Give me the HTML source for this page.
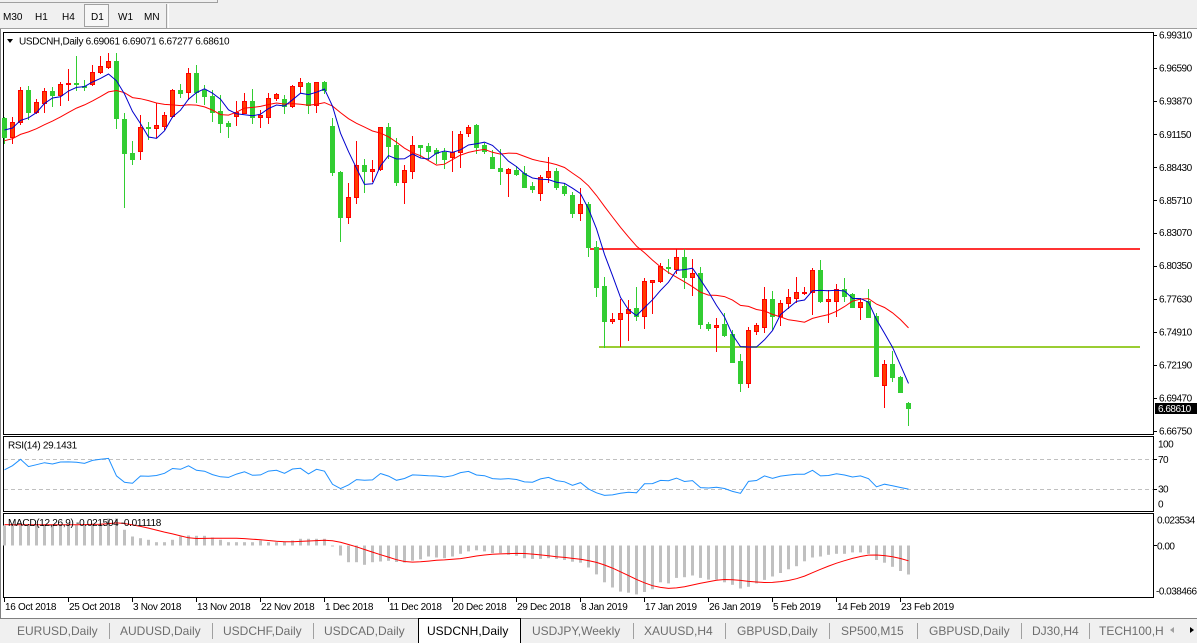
<!DOCTYPE html>
<html><head><meta charset="utf-8">
<style>
html,body{margin:0;padding:0;width:1197px;height:643px;overflow:hidden;background:#f0f0f0;}
svg{display:block;font-family:"Liberation Sans",Arial,sans-serif;}
</style></head><body>
<svg id="s" width="1197" height="643" viewBox="0 0 1197 643" xmlns="http://www.w3.org/2000/svg">
<!-- toolbar -->
<rect x="0" y="0" width="1197" height="29" fill="#f0f0f0"/>
<line x1="0" y1="2.5" x2="217" y2="2.5" stroke="#a0a0a0"/>
<line x1="217.5" y1="0" x2="217.5" y2="3" stroke="#a0a0a0"/>
<rect x="84.5" y="4.5" width="24" height="22" fill="#f7f7f7" stroke="#a0a0a0"/>
<line x1="166.5" y1="4" x2="166.5" y2="28" stroke="#a0a0a0"/>
<line x1="168.5" y1="4" x2="168.5" y2="28" stroke="#ffffff"/>
<g font-size="10" fill="#000">
<text x="3" y="20">M30</text>
<text x="35" y="20">H1</text>
<text x="62" y="20">H4</text>
<text x="91" y="20">D1</text>
<text x="118" y="20">W1</text>
<text x="144" y="20">MN</text>
</g>
<line x1="0" y1="28.5" x2="1197" y2="28.5" stroke="#a0a0a0"/>
<!-- chart window -->
<rect x="0" y="29" width="1197" height="589" fill="#ffffff"/>
<line x1="0.5" y1="29" x2="0.5" y2="618" stroke="#808080"/>
<!-- frames -->
<g fill="none" stroke="#000" shape-rendering="crispEdges">
<rect x="3.5" y="32.5" width="1150" height="402"/>
<rect x="3.5" y="436.5" width="1150" height="75"/>
<rect x="3.5" y="513.5" width="1150" height="84"/>
</g>
<!-- RSI levels -->
<g stroke="#c0c0c0" stroke-dasharray="4,3" shape-rendering="crispEdges">
<line x1="4" y1="459.5" x2="1153" y2="459.5"/>
<line x1="4" y1="489.5" x2="1153" y2="489.5"/>
</g>
<!-- level lines -->
<rect x="590" y="248" width="550" height="2" fill="#f33"/>
<rect x="599" y="346" width="541" height="2" fill="#9acd32"/>
<g id="dyn"></g>
<!-- titles -->
<polygon points="7,39 13,39 10,43" fill="#000"/>
<text x="19" y="44.5" font-size="10" letter-spacing="-0.3" fill="#000">USDCNH,Daily  6.69061 6.69071 6.67277 6.68610</text>
<text x="8" y="448.5" font-size="10" letter-spacing="-0.3" fill="#000">RSI(14) 29.1431</text>
<text x="8" y="526" font-size="10" letter-spacing="-0.3" fill="#000">MACD(12,26,9) -0.021504 -0.011118</text>
<!-- price axis -->
<g id="pax" font-size="10" letter-spacing="-0.5" fill="#000"></g>
<rect x="1155" y="403" width="42" height="11" fill="#000"/>
<text x="1158" y="412" font-size="10" letter-spacing="-0.5" fill="#fff">6.68610</text>
<!-- RSI axis -->
<g font-size="10" letter-spacing="-0.5" fill="#000">
<text x="1158" y="447.5">100</text>
<text x="1158" y="463">70</text>
<text x="1158" y="492.5">30</text>
<text x="1158" y="507.5">0</text>
<text x="1157" y="523.5">0.023534</text>
<text x="1157" y="549.5">0.00</text>
<text x="1156" y="594.5">-0.038466</text>
</g>
<g stroke="#000" shape-rendering="crispEdges">
<line x1="1153" y1="459.5" x2="1157" y2="459.5"/>
<line x1="1153" y1="489.5" x2="1157" y2="489.5"/>
<line x1="1153" y1="545.5" x2="1157" y2="545.5"/>
</g>
<!-- date axis -->
<g id="dax" font-size="10" letter-spacing="-0.3" fill="#000"></g>
<!-- tabs -->
<rect x="0" y="618" width="1197" height="25" fill="#f0f0f0"/>
<line x1="0" y1="618.5" x2="1197" y2="618.5" stroke="#808080"/>
<rect x="418.5" y="618.5" width="102" height="30" fill="#ffffff" stroke="#000"/>
<g stroke="#a0a0a0" shape-rendering="crispEdges">
<line x1="109.5" y1="623" x2="109.5" y2="639"/>
<line x1="212.5" y1="623" x2="212.5" y2="639"/>
<line x1="313.5" y1="623" x2="313.5" y2="639"/>
<line x1="633.5" y1="623" x2="633.5" y2="639"/>
<line x1="725.5" y1="623" x2="725.5" y2="639"/>
<line x1="829.5" y1="623" x2="829.5" y2="639"/>
<line x1="917.5" y1="623" x2="917.5" y2="639"/>
<line x1="1021.5" y1="623" x2="1021.5" y2="639"/>
<line x1="1089.5" y1="623" x2="1089.5" y2="639"/>
</g>
<g font-size="12" fill="#6d6d6d">
<text x="17" y="635">EURUSD,Daily</text>
<text x="120" y="635">AUDUSD,Daily</text>
<text x="223" y="635">USDCHF,Daily</text>
<text x="324" y="635">USDCAD,Daily</text>
<text x="427" y="635" fill="#000">USDCNH,Daily</text>
<text x="532" y="635">USDJPY,Weekly</text>
<text x="644" y="635">XAUUSD,H4</text>
<text x="737" y="635">GBPUSD,Daily</text>
<text x="841" y="635">SP500,M15</text>
<text x="929" y="635">GBPUSD,Daily</text>
<text x="1032" y="635">DJ30,H4</text>
<text x="1099" y="635">TECH100,H</text>
</g>
<polygon points="1174,627 1174,633 1170,630" fill="#a0a0a0"/>
<polygon points="1190,627 1190,633 1194,630" fill="#000"/>
</svg>
<script>
(function(){
var D=[
[0,118,137,117,143],[1,137,122,117,143],[1,122,90,87,124],[0,90,112,86,119],[1,112,102,99,113],
[1,103,91,88,112],[0,91,95,87,106],[1,95,84,82,105],[1,84,83,69,100],[0,83,84,56,90],
[0,86,87,80,90],[1,84,72,65,85],[1,72,66,56,73],[1,67,61,53,68],[0,61,118,53,128],
[0,119,153,113,207],[0,153,159,141,164],[1,151,127,115,159],[0,127,128,122,139],[1,128,125,103,137],
[1,126,115,112,129],[1,116,90,89,117],[0,90,93,84,97],[1,92,73,68,99],[0,73,92,65,102],
[0,90,96,85,104],[0,96,112,90,121],[0,111,123,95,132],[0,123,126,121,137],[1,116,112,101,125],
[1,113,101,93,113],[0,101,117,89,123],[1,117,115,110,127],[1,117,98,93,123],[1,98,94,93,100],
[0,99,106,95,113],[1,106,86,85,107],[1,86,82,78,92],[0,83,105,82,113],[1,105,82,82,112],
[0,82,90,81,93],[0,126,172,118,175],[0,172,217,171,241],[1,217,197,183,223],[1,197,165,141,203],
[0,165,171,159,192],[1,171,169,160,181],[1,169,127,127,170],[0,127,146,123,158],[0,145,182,138,185],
[1,182,170,165,203],[1,171,145,136,178],[0,145,147,145,157],[0,146,151,143,159],[0,150,153,148,163],
[0,152,159,148,168],[1,157,152,131,171],[1,152,134,131,167],[1,133,127,125,136],[0,125,147,124,153],
[0,145,151,143,153],[0,157,168,150,168],[0,168,171,149,184],[1,173,169,168,196],[0,170,174,166,175],
[0,173,187,166,187],[0,186,189,182,192],[1,193,177,175,200],[1,177,171,157,182],[0,171,187,168,189],
[0,186,193,183,195],[0,195,213,192,217],[1,213,204,188,220],[0,204,247,202,256],[0,247,287,241,296],
[0,286,321,277,347],[1,321,319,313,323],[1,319,313,299,346],[1,313,309,300,340],[0,308,316,287,320],
[1,316,281,278,328],[1,282,280,280,313],[1,281,266,263,282],[0,267,268,259,273],[1,269,257,249,273],
[0,257,277,249,288],[1,277,273,259,295],[0,273,324,267,328],[0,324,328,322,330],[1,327,325,318,351],
[0,324,335,313,336],[0,334,362,330,362],[0,361,383,354,391],[1,383,330,327,387],[1,331,325,323,334],
[1,327,299,287,332],[0,299,316,291,329],[1,316,303,300,325],[1,303,297,289,308],[1,298,292,277,302],
[1,293,292,287,294],[1,292,270,268,314],[0,270,301,260,302],[1,301,299,290,322],[1,301,289,284,316],
[0,289,296,278,301],[0,294,307,293,307],[1,307,302,298,319],[0,301,317,289,317],[0,316,376,313,376],
[1,385,364,360,407],[0,364,377,351,381],[0,377,392,376,392],[0,403,408,402,425]
];
var H=[20,20,20,21,21,21,21,21,21,21,21,22,22,27,27,15.7,9,7.3,5.7,3.3,
3.3,5.7,9,10,9.7,9.7,8,5.7,3.3,3.3,3.3,3.3,5,3.3,3.3,4,5,6.7,6.7,6.7,
6.7,-0.5,-10,-16.7,-16.7,-19.3,-16.7,-16,-15.3,-16.5,-17,-15.2,-13.8,-11,-12,-12.7,-11,-8.3,-5.9,-4.8,
-5.9,-7.6,-7.6,-9.3,-10.3,-12.7,-13.4,-13.4,-12.7,-13.4,-14.5,-16.2,-17.2,-22,-28.9,-36.8,-42,-46.1,-47.2,-48.9,
-46.5,-43.7,-36.8,-37.9,-32.4,-31.7,-30,-32.4,-34.1,-34.1,-36.8,-39.3,-43,-41.3,-37.9,-34.4,-31,-27.5,-23.8,-20.7,
-15.8,-12,-11,-9.3,-8.3,-8.3,-6.9,-6.9,-8.3,-14.5,-17.2,-21.3,-25.5,-29];
var s='';
function X(i){return 4.5+8*i;}
// MACD histogram
var Z=545.5;
for(var i=0;i<H.length;i++){var h=H[i];var y1=h>=0?Z-h:Z;var hh=Math.abs(h);if(hh<1)hh=1;
 s+='<rect x="'+(3+8*i)+'" y="'+y1.toFixed(1)+'" width="3" height="'+hh.toFixed(1)+'" fill="#c0c0c0"/>';}
// signal SMA9
var pts=[];
for(var i=0;i<H.length;i++){var sm=0;for(var k=0;k<9;k++){var j=i-k;sm+=(j>=0?H[j]:21);}pts.push(X(i)+','+(Z-sm/9).toFixed(1));}
s+='<polyline points="'+pts.join(' ')+'" fill="none" stroke="#ff0000" stroke-width="1"/>';
// candles
var R='#ff0000',RF='#ff3c00',G='#32cd32';
for(var i=0;i<D.length;i++){var d=D[i],t=d[0],o=d[1],c=d[2],hi=d[3],lo=d[4];
 var x=4+8*i,top=Math.min(o,c),bot=Math.max(o,c),bh=bot-top+1;var col=t?R:G;
 s+='<rect x="'+x+'" y="'+hi+'" width="1" height="'+(lo-hi+1)+'" fill="'+col+'"/>';
 s+='<rect x="'+(x-2)+'" y="'+top+'" width="5" height="'+bh+'" fill="'+col+'"/>';
 if(t&&bh>2)s+='<rect x="'+(x-1)+'" y="'+(top+1)+'" width="3" height="'+(bh-2)+'" fill="'+RF+'"/>';
}
// MAs
var pre=[150,150,148,146,147,145,144,146,144,132,128,125,128];
var OFF=pre.length;
var all=pre.concat(D.map(function(d){return d[2];}));
function sma(n,i){var t=0;for(var k=0;k<n;k++)t+=all[i+OFF-k];return t/n;}
var pb=[],pr=[];
for(var i=0;i<D.length;i++){pb.push(X(i)+','+sma(5,i).toFixed(1));pr.push(X(i)+','+sma(14,i).toFixed(1));}
s+='<polyline points="'+pr.join(' ')+'" fill="none" stroke="#ff0000" stroke-width="1"/>';
s+='<polyline points="'+pb.join(' ')+'" fill="none" stroke="#0000cd" stroke-width="1"/>';
// RSI
var ag=4.9,al=3.2,prev=128,pq=[];
for(var i=0;i<D.length;i++){var c=D[i][2],ch=prev-c;var g=ch>0?ch:0,l=ch<0?-ch:0;ag=(ag*13+g)/14;al=(al*13+l)/14;prev=c;
 var r=100*ag/(ag+al);pq.push(X(i)+','+(511-r*0.74).toFixed(1));}
s+='<polyline points="'+pq.join(' ')+'" fill="none" stroke="#1e90ff" stroke-width="1"/>';
document.getElementById('dyn').innerHTML=s;
// price axis
var L=['6.99310','6.96590','6.93870','6.91150','6.88430','6.85710','6.83070','6.80350','6.77630','6.74910','6.72190','6.69470','6.66750'];
var p='';
for(var k=0;k<L.length;k++){var y=35+(6.9931-parseFloat(L[k]))*1216.9;
 p+='<rect x="1153" y="'+Math.round(y)+'" width="4" height="1" fill="#000"/>';
 p+='<text x="1159" y="'+(y+3.5).toFixed(1)+'">'+L[k]+'</text>';}
document.getElementById('pax').innerHTML=p;
var DL=['16 Oct 2018','25 Oct 2018','3 Nov 2018','13 Nov 2018','22 Nov 2018','1 Dec 2018','11 Dec 2018','20 Dec 2018','29 Dec 2018','8 Jan 2019','17 Jan 2019','26 Jan 2019','5 Feb 2019','14 Feb 2019','23 Feb 2019'];
var q='';
for(var k=0;k<DL.length;k++){var x=4+64*k;
 q+='<rect x="'+x+'" y="597" width="1" height="5" fill="#000"/>';
 q+='<text x="'+(x+1)+'" y="610">'+DL[k]+'</text>';}
document.getElementById('dax').innerHTML=q;
})();
</script>
</body></html>
